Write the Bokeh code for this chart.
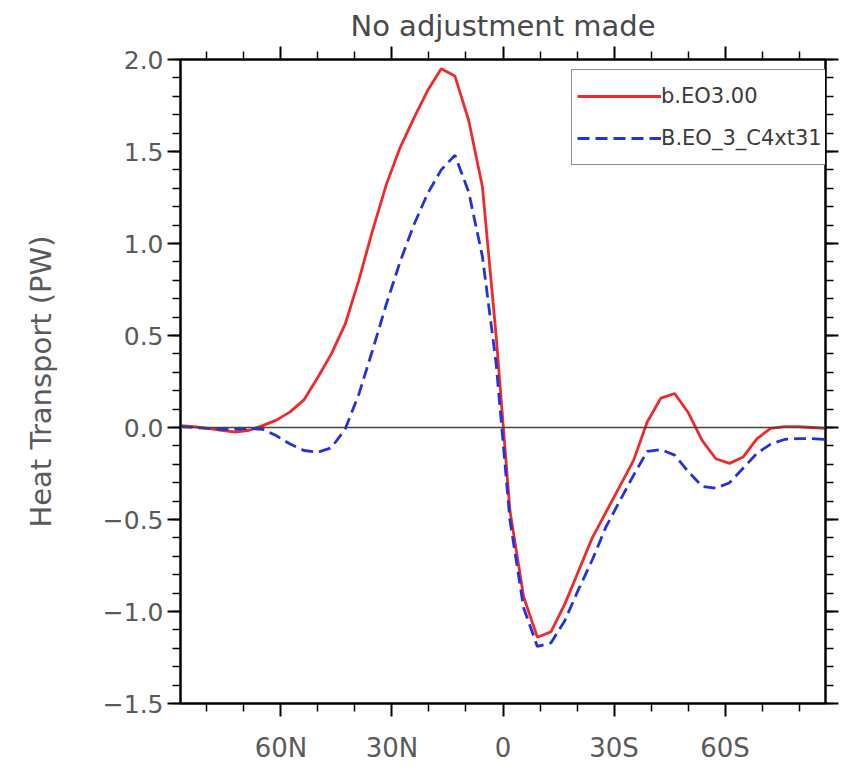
from bokeh.plotting import figure
from bokeh.models import Range1d, LinearAxis, FixedTicker, Span, Legend, LegendItem
from bokeh.embed import file_html
from bokeh.resources import INLINE

# Gaussian latitudes (deg, + = North), listed North -> South
lat_north = [87.16, 83.48, 79.78, 76.07, 72.36, 68.65, 64.94, 61.23, 57.52, 53.81,
             50.10, 46.39, 42.68, 38.97, 35.26, 31.54, 27.83, 24.12, 20.41, 16.70,
             12.99, 9.28, 5.57, 1.86]
latitude = lat_north + [-v for v in reversed(lat_north)]

# Series values (PW), North -> South
b_EO3_00 = [0.01, 0.005, -0.005, -0.015, -0.025, -0.015, 0.01, 0.04, 0.085, 0.15,
            0.27, 0.40, 0.56, 0.80, 1.07, 1.32, 1.52, 1.68, 1.83, 1.95,
            1.91, 1.67, 1.31, 0.50,
            -0.45, -0.92, -1.14, -1.11, -0.96, -0.78, -0.60, -0.46, -0.32, -0.18,
            0.03, 0.16, 0.185, 0.08, -0.07, -0.17, -0.195, -0.16, -0.06, -0.005,
            0.005, 0.005, 0.0, -0.005]
B_EO_3_C4xt31 = [0.005, 0.0, -0.005, -0.01, -0.01, -0.005, -0.01, -0.045, -0.09, -0.125,
                 -0.135, -0.11, -0.01, 0.18, 0.42, 0.67, 0.90, 1.10, 1.27, 1.40,
                 1.48, 1.28, 0.93, 0.35,
                 -0.50, -0.98, -1.19, -1.17, -1.05, -0.88, -0.72, -0.54, -0.40, -0.26,
                 -0.13, -0.12, -0.15, -0.24, -0.32, -0.33, -0.30, -0.22, -0.14, -0.09,
                 -0.065, -0.06, -0.06, -0.065]

series_names = ["b.EO3.00", "B.EO_3_C4xt31"]
x_major = [60, 30, 0, -30, -60]
x_labels = ["60N", "30N", "0", "30S", "60S"]
x_minor = [80, 70, 50, 40, 20, 10, -10, -20, -40, -50, -70, -80]
y_major = [-1.5, -1.0, -0.5, 0.0, 0.5, 1.0, 1.5, 2.0]
y_labels = ["\u22121.5", "\u22121.0", "\u22120.5", "0.0", "0.5", "1.0", "1.5", "2.0"]
y_minor = [round(-1.5 + 0.1 * i, 1) for i in range(36)]

FONT = "DejaVu Sans"
TXT = "#5a5a5a"

p = figure(width=865, height=773, output_backend="svg", toolbar_location=None,
           x_range=Range1d(87.16, -87.16), y_range=Range1d(-1.5, 2.0),
           frame_width=645, frame_height=644,
           min_border_left=180, min_border_right=40, min_border_top=59, min_border_bottom=70,
           x_axis_location=None, y_axis_location=None)
p.grid.visible = False
p.outline_line_color = "black"
p.outline_line_width = 2
p.background_fill_color = "white"
p.border_fill_color = "white"

p.title.text = "No adjustment made"
p.title.align = "center"
p.title.text_font = FONT
p.title.text_font_size = "29px"
p.title.text_font_style = "normal"
p.title.text_color = "#4a4a4a"
p.title.standoff = 8

def style_axis(ax, labels=True, size="25px"):
    ax.axis_line_width = 2
    ax.axis_line_color = "black"
    ax.major_tick_line_width = 2
    ax.minor_tick_line_width = 1.5
    ax.major_tick_in = 0
    ax.major_tick_out = 13
    ax.minor_tick_in = 0
    ax.minor_tick_out = 8
    ax.major_label_text_font = FONT
    ax.major_label_text_font_size = size if labels else "0px"
    ax.major_label_text_color = TXT
    ax.major_label_standoff = 4

xt = FixedTicker(ticks=x_major, minor_ticks=x_minor)
yt = FixedTicker(ticks=y_major, minor_ticks=y_minor)

xb = LinearAxis(ticker=xt, major_label_overrides=dict(zip(x_major, x_labels)))
style_axis(xb, size="26px")
xb.major_label_standoff = 16
p.add_layout(xb, "below")
xa = LinearAxis(ticker=xt, major_label_overrides={v: "" for v in x_major})
style_axis(xa, labels=False)
p.add_layout(xa, "above")

yl = LinearAxis(ticker=yt, major_label_overrides=dict(zip(y_major, y_labels)))
style_axis(yl)
yl.axis_label = "Heat Transport (PW)"
yl.axis_label_text_font = FONT
yl.axis_label_text_font_size = "29px"
yl.axis_label_text_font_style = "normal"
yl.axis_label_text_color = TXT
yl.axis_label_standoff = 42
p.add_layout(yl, "left")
yr = LinearAxis(ticker=yt, major_label_overrides={v: "" for v in y_major})
style_axis(yr, labels=False)
p.add_layout(yr, "right")

p.add_layout(Span(location=0, dimension="width", line_color="#444444", line_width=1.5))

r1 = p.line(latitude, b_EO3_00, line_color="#f02a2a", line_width=2.8)
r2 = p.line(latitude, B_EO_3_C4xt31, line_color="#2233dd", line_width=2.8, line_dash="12 6")

legend = Legend(items=[LegendItem(label=series_names[0], renderers=[r1]),
                       LegendItem(label=series_names[1], renderers=[r2])],
                location=(391, 538), orientation="vertical")
legend.border_line_color = "#222222"
legend.border_line_width = 1.5
legend.background_fill_color = "white"
legend.background_fill_alpha = 1.0
legend.label_text_font = FONT
legend.label_text_font_size = "21px"
legend.label_text_color = "#3a3a3a"
legend.label_standoff = 0
legend.glyph_width = 84
legend.glyph_height = 42
legend.label_height = 42
legend.label_width = 155
legend.spacing = 0
legend.padding = 5
legend.margin = 0
p.add_layout(legend, "center")

open("out.html", "w").write(file_html(p, INLINE))
